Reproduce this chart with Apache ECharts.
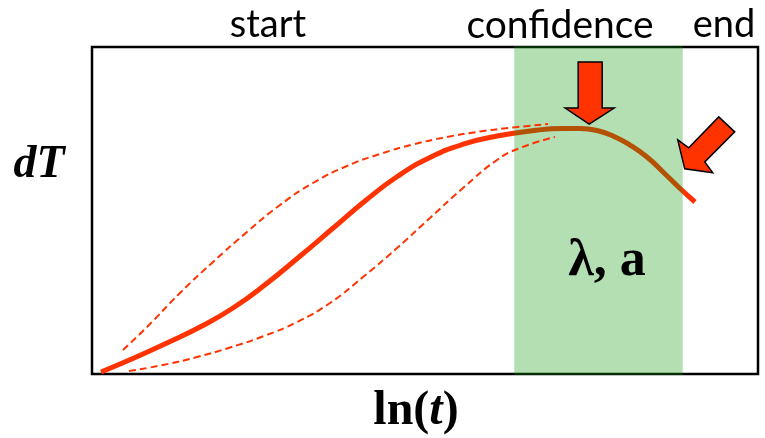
<!DOCTYPE html>
<html>
<head>
<meta charset="utf-8">
<script src="https://cdn.jsdelivr.net/npm/echarts@6/dist/echarts.min.js"></script>
<style>
  html, body { margin: 0; padding: 0; background: #fff; }
  #chart { width: 765px; height: 438px; }
</style>
</head>
<body>
<div id="chart"></div>
<script>
// Temperature rise dT against ln(t): fitted curve with upper/lower bounds.
// x = ln(t) (relative units, 0-100), y = dT (relative units, 0-100)
const mainX  = [1.35, 6.31, 11.26, 16.22, 21.17, 26.13, 31.08, 36.04, 40.99, 45.95, 50.9, 55.86, 60.81, 65.77, 70.72, 73.27, 75.83, 78.23, 80.78, 83.33, 85.74, 88.14, 90.54];
const mainY  = [0.6, 4.89, 9.48, 14.37, 20.18, 27.52, 35.78, 44.34, 52.91, 60.55, 66.36, 70.34, 72.78, 74.31, 75.08, 75.08, 74.46, 72.78, 70.03, 66.36, 61.77, 57.03, 52.6];
const upperX = [4.65, 8.26, 13.21, 18.17, 23.27, 28.23, 33.18, 38.29, 43.24, 48.2, 53.3, 58.26, 63.21, 68.47];
const upperY = [7.34, 14.37, 24.77, 34.25, 43.43, 51.68, 58.41, 63.61, 67.28, 70.18, 72.48, 74.16, 75.38, 76.45];
const lowerX = [5.56, 10.66, 15.77, 20.72, 25.83, 30.78, 35.74, 40.69, 45.8, 50.75, 55.71, 60.81, 64.26, 69.52];
const lowerY = [0.92, 2.75, 5.2, 8.1, 11.62, 15.9, 21.71, 29.66, 38.53, 47.71, 56.88, 65.44, 69.11, 72.48];
// confidence window on the ln(t) axis
const confidenceRange = [63.4, 88.7];
// region labels above the plot
const regionLabels = ['start', 'confidence', 'end'];

const zip = (xs, ys) => xs.map((x, i) => [x, ys[i]]);
const RED = '#FF3300';

const chart = echarts.init(document.getElementById('chart'), null, { renderer: 'canvas' });

chart.setOption({
  animation: false,
  backgroundColor: '#fff',
  grid: {
    left: 92, top: 47, width: 666, height: 327,
    show: true, borderColor: '#000', borderWidth: 2.5, backgroundColor: 'transparent'
  },
  xAxis: {
    type: 'value', min: 0, max: 100,
    axisLine: { show: false }, axisTick: { show: false },
    axisLabel: { show: false }, splitLine: { show: false }
  },
  yAxis: {
    type: 'value', min: 0, max: 100,
    axisLine: { show: false }, axisTick: { show: false },
    axisLabel: { show: false }, splitLine: { show: false }
  },
  series: [
    {
      type: 'line', name: 'fit', data: zip(mainX, mainY), smooth: 0.5,
      symbol: 'none', z: 2,
      lineStyle: { color: RED, width: 5, cap: 'butt' }
    },
    {
      // translucent confidence window laid over the fitted curve
      type: 'custom', name: 'window', z: 3, silent: true,
      data: [confidenceRange],
      renderItem: (params, api) => {
        const cs = params.coordSys;
        const x0 = api.coord([api.value(0), 0])[0];
        const x1 = api.coord([api.value(1), 0])[0];
        return {
          type: 'rect',
          shape: { x: x0, y: cs.y - 1, width: x1 - x0, height: cs.height + 2 },
          style: { fill: 'rgba(10,152,10,0.31)' }
        };
      }
    },
    {
      type: 'line', name: 'upper', data: zip(upperX, upperY), smooth: 0.5,
      symbol: 'none', z: 4,
      lineStyle: { color: RED, width: 2, type: [7, 4] }
    },
    {
      type: 'line', name: 'lower', data: zip(lowerX, lowerY), smooth: 0.5,
      symbol: 'none', z: 4,
      lineStyle: { color: RED, width: 2, type: [7, 4] }
    }
  ]
});

// Arrow outlines (pixel offsets from the point each arrow indicates)
const downArrow = [[-1, -5], [-25, -21], [-12, -21], [-12, -67], [12, -67], [12, -21], [24, -21]];
const sideArrow = [[0, 0], [-7, -29], [4, -21], [34, -52], [50, -37], [20, -7], [28, 4]];

const peak = chart.convertToPixel({ gridIndex: 0 }, [74.8, 74.9]);
const tail = chart.convertToPixel({ gridIndex: 0 }, [88.7, 55.7]);

const serif = '"Liberation Serif", "Times New Roman", serif';
const sans = 'Lato, "Open Sans", sans-serif';

chart.setOption({
  graphic: [
    {
      type: 'polygon', z: 100,
      shape: { points: downArrow.map(p => [peak[0] + p[0], peak[1] + p[1]]) },
      style: { fill: RED, stroke: '#000', lineWidth: 1.5 }
    },
    {
      type: 'polygon', z: 100,
      shape: { points: sideArrow.map(p => [tail[0] + 2 + p[0], tail[1] - 23 + p[1]]) },
      style: { fill: RED, stroke: '#000', lineWidth: 1.5 }
    },
    {
      type: 'text', z: 100, x: 268, y: 25,
      style: { text: regionLabels[0], font: '38px ' + sans, fill: '#000', textAlign: 'center', textVerticalAlign: 'middle' }
    },
    {
      type: 'text', z: 100, x: 560, y: 25,
      style: { text: regionLabels[1], font: '39px ' + sans, fill: '#000', textAlign: 'center', textVerticalAlign: 'middle' }
    },
    {
      type: 'text', z: 100, x: 724, y: 25,
      style: { text: regionLabels[2], font: '38px ' + sans, fill: '#000', textAlign: 'center', textVerticalAlign: 'middle' }
    },
    {
      type: 'text', z: 100, x: 39, y: 165,
      style: { text: 'dT', font: 'italic bold 46px ' + serif, fill: '#000', textAlign: 'center', textVerticalAlign: 'middle' }
    },
    {
      type: 'text', z: 100, x: 607, y: 262,
      style: { text: 'λ, a', font: 'bold 52px ' + serif, fill: '#000', textAlign: 'center', textVerticalAlign: 'middle' }
    },
    {
      type: 'text', z: 100, x: 416, y: 412,
      style: {
        text: '{n|ln(}{i|t}{n|)}', textAlign: 'center', textVerticalAlign: 'middle',
        rich: {
          n: { font: 'bold 48px ' + serif, fill: '#000' },
          i: { font: 'italic bold 48px ' + serif, fill: '#000' }
        }
      }
    }
  ]
});
</script>
</body>
</html>
